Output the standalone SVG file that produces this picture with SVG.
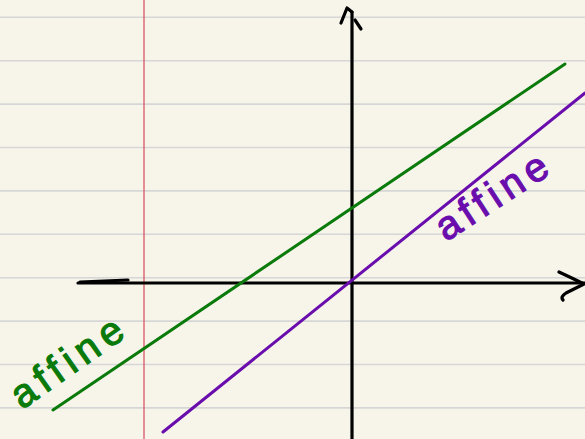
<svg xmlns="http://www.w3.org/2000/svg" width="585" height="439" viewBox="0 0 585 439">
<style>
.rule{stroke:#d6d6d6;stroke-width:1.6}
.axis{stroke:#000;stroke-width:3.2;fill:none;stroke-linecap:round;stroke-linejoin:round}
.lbl{font-family:"Liberation Sans","DejaVu Sans",sans-serif;font-size:40px;stroke-width:1.2}
</style>
<rect width="585" height="439" fill="#f7f5ea"/>
<g id="paper">
<line class="rule" x1="0" y1="17.3" x2="585" y2="17.3"/>
<line class="rule" x1="0" y1="60.7" x2="585" y2="60.7"/>
<line class="rule" x1="0" y1="104.1" x2="585" y2="104.1"/>
<line class="rule" x1="0" y1="147.5" x2="585" y2="147.5"/>
<line class="rule" x1="0" y1="190.9" x2="585" y2="190.9"/>
<line class="rule" x1="0" y1="234.3" x2="585" y2="234.3"/>
<line class="rule" x1="0" y1="277.7" x2="585" y2="277.7"/>
<line class="rule" x1="0" y1="321.1" x2="585" y2="321.1"/>
<line class="rule" x1="0" y1="364.5" x2="585" y2="364.5"/>
<line class="rule" x1="0" y1="407.9" x2="585" y2="407.9"/>
<line x1="144" y1="0" x2="144" y2="439" stroke="#d9475c" stroke-width="1.2"/>
</g>
<g id="axes">
<path class="axis" d="M352 439 L352 12"/>
<path class="axis" d="M341 23 L347 8 L352 12 M355 20 L361 29"/>
<path class="axis" d="M78 283 L585 283"/>
<path class="axis" d="M80 282 L128 280"/>
<path class="axis" d="M559 272 Q572 278 584 284 L566 293 Q560 297 563 300"/>
</g>
<g id="lines">
<line x1="53" y1="410" x2="565" y2="64" stroke="#0a7a0a" stroke-width="3" stroke-linecap="round"/>
<line x1="163" y1="432" x2="585" y2="93" stroke="#6a0dad" stroke-width="3" stroke-linecap="round"/>
</g>
<g id="label-green">
<text class="lbl" fill="#0a7a0a" stroke="#0a7a0a" transform="translate(22,410) rotate(-35)" textLength="128" lengthAdjust="spacing">affine</text>
</g>
<g id="label-purple">
<text class="lbl" fill="#6a0dad" stroke="#6a0dad" transform="translate(446,242) rotate(-33)" textLength="126" lengthAdjust="spacing">affine</text>
</g>
</svg>
